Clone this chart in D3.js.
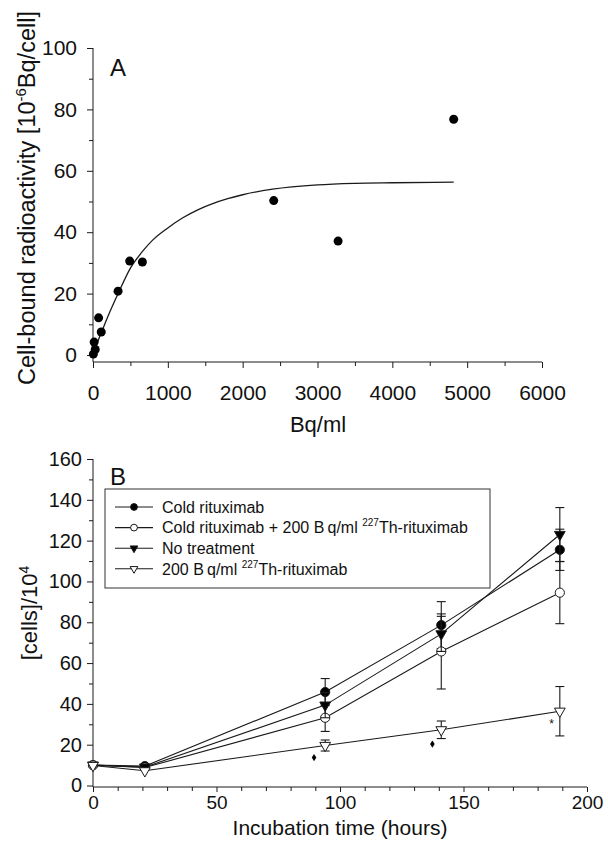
<!DOCTYPE html>
<html>
<head>
<meta charset="utf-8">
<script src="https://cdn.jsdelivr.net/npm/d3@7"></script>
<style>
  body { margin: 0; background: #fff; }
  svg { display: block; }
  text { font-family: "Liberation Sans", Arial, sans-serif; fill: #111; }
</style>
</head>
<body>
<div id="chart"></div>
<script>
// ---- panel A data ----
var bqPerMl   = [5, 30, 15, 75, 110, 335, 490, 660, 2415, 3275, 4820];
var cellBound = [0.3, 1.8, 4.2, 12.1, 7.5, 20.8, 30.6, 30.3, 50.3, 37.1, 76.8];

// fitted curve as drawn
var fitBq    = [40, 90, 125, 200, 345, 500, 650, 800, 1000, 1200, 1400, 1600, 1800, 2000, 2400, 3000, 3500, 4000, 4820];
var fitBound = [2.8, 6.0, 8.1, 12.6, 20.5, 28.3, 33.4, 37.5, 41.4, 44.7, 47.3, 49.3, 50.9, 52.2, 54.0, 55.4, 55.9, 56.1, 56.3];

// ---- panel B data ----
var hours = [0, 21, 94, 141, 189];
var seriesNames = ["Cold rituximab", "Cold rituximab + 200 B\u2009q/ml ", "No treatment", "200 B\u2009q/ml "];
var coldRituximab     = [10.0, 9.5, 45.8, 78.6, 115.5];
var coldRituximabErr  = [0, 0, 6.6, 11.5, 10.1];
var coldPlusTh        = [10.0, 8.8, 33.2, 65.7, 94.5];
var coldPlusThErr     = [0, 0, 6.7, 18.4, 15.2];
var noTreatment       = [10.0, 9.0, 39.4, 74.3, 123.0];
var noTreatmentErr    = [0, 0, 6.2, 8.6, 13.2];
var thRituximab       = [9.8, 7.2, 19.6, 27.3, 36.4];
var thRituximabErr    = [0, 0, 2.7, 4.3, 12.1];

var diamondHours = [89.5, 137.4];
var diamondVals  = [13.7, 20.3];
var starHours = [185.7];
var starVals  = [31.9];

var width = 608, height = 853;
var ink = "#1a1a1a";

var svg = d3.select("#chart").append("svg")
    .attr("width", width)
    .attr("height", height);

// helper: axis with major + minor ticks, no domain path
function ticks(g, axisFn, scale, major, minor, size, pad, fs) {
  g.append("g").call(axisFn(scale).tickValues(minor).tickSize(4).tickFormat(""))
    .call(function (s) { s.select(".domain").remove(); });
  var m = g.append("g").call(axisFn(scale).tickValues(major).tickSize(size).tickPadding(pad).tickFormat(d3.format("d")))
    .call(function (s) { s.select(".domain").remove(); });
  g.selectAll("line").attr("stroke", ink);
  m.selectAll("text").style("font-size", fs + "px").attr("fill", ink);
  return g;
}

// ================= Panel A =================
var xA = d3.scaleLinear().domain([0, 6000]).range([93, 542]);
var yA = d3.scaleLinear().domain([0, 100]).range([355, 48]);
var axisYA = 362; // offset x-axis

var gA = svg.append("g");

ticks(gA.append("g").attr("transform", "translate(93,0)"), d3.axisLeft, yA,
      d3.range(0, 101, 20), d3.range(10, 100, 20), 6, 10, 21);
ticks(gA.append("g").attr("transform", "translate(0," + axisYA + ")"), d3.axisBottom, xA,
      d3.range(0, 6001, 1000), d3.range(500, 6000, 1000), 6, 17, 21);

gA.append("line").attr("x1", 93).attr("x2", 93).attr("y1", yA(100)).attr("y2", axisYA)
  .attr("stroke", ink);
gA.append("line").attr("x1", 93).attr("x2", xA(6000)).attr("y1", axisYA).attr("y2", axisYA)
  .attr("stroke", ink);

// fit curve
var fitPts = fitBq.map(function (d, i) { return [d, fitBound[i]]; });
gA.append("path")
  .datum(fitPts)
  .attr("fill", "none")
  .attr("stroke", ink)
  .attr("stroke-width", 1.3)
  .attr("d", d3.line().x(function (d) { return xA(d[0]); }).y(function (d) { return yA(d[1]); })
        .curve(d3.curveMonotoneX));

// points
gA.selectAll("circle.pt")
  .data(bqPerMl.map(function (d, i) { return [d, cellBound[i]]; }))
  .enter().append("circle")
  .attr("cx", function (d) { return xA(d[0]); })
  .attr("cy", function (d) { return yA(d[1]); })
  .attr("r", 4.5)
  .attr("fill", "#000");

gA.append("text").attr("x", 110).attr("y", 76).style("font-size", "24px").text("A");

gA.append("text")
  .attr("transform", "translate(35,198) rotate(-90)")
  .attr("text-anchor", "middle")
  .style("font-size", "23.5px")
  .call(function (t) {
    t.append("tspan").text("Cell-bound radioactivity [10");
    t.append("tspan").attr("dy", -9).style("font-size", "15px").text("-6");
    t.append("tspan").attr("dy", 9).text("Bq/cell]");
  });

gA.append("text").attr("x", 318).attr("y", 432).attr("text-anchor", "middle")
  .style("font-size", "22px").text("Bq/ml");

// ================= Panel B =================
var xB = d3.scaleLinear().domain([0, 200]).range([93, 587]);
var yB = d3.scaleLinear().domain([0, 160]).range([785.5, 459]);
var axisYB = 787;

var gB = svg.append("g");

ticks(gB.append("g").attr("transform", "translate(93,0)"), d3.axisLeft, yB,
      d3.range(0, 161, 20), d3.range(10, 160, 20), 6, 5, 20);
ticks(gB.append("g").attr("transform", "translate(0," + axisYB + ")"), d3.axisBottom, xB,
      d3.range(0, 201, 50), d3.range(0, 200, 10).filter(function (d) { return d % 50; }), 5, 4, 19);

gB.append("line").attr("x1", 93).attr("x2", 93).attr("y1", yB(160)).attr("y2", axisYB)
  .attr("stroke", ink);
gB.append("line").attr("x1", 93).attr("x2", xB(200)).attr("y1", axisYB).attr("y2", axisYB)
  .attr("stroke", ink);

var series = [
  { name: seriesNames[0], vals: coldRituximab, err: coldRituximabErr, sym: "circle", fill: "#000", sup: null },
  { name: seriesNames[1], vals: coldPlusTh, err: coldPlusThErr, sym: "circle", fill: "#fff", sup: "227" },
  { name: seriesNames[2], vals: noTreatment, err: noTreatmentErr, sym: "tri", fill: "#000", sup: null },
  { name: seriesNames[3], vals: thRituximab, err: thRituximabErr, sym: "tri", fill: "#fff", sup: "227" }
];

function drawSymbol(sel, s, small) {
  if (s.sym === "circle") {
    sel.append("circle").attr("r", small ? 3.4 : 4.6)
      .attr("fill", s.fill).attr("stroke", ink).attr("stroke-width", 1);
  } else {
    sel.append("path")
      .attr("d", d3.symbol().type(d3.symbolTriangle).size(small ? 26 : 50)())
      .attr("transform", "rotate(180)")
      .attr("fill", s.fill).attr("stroke", ink).attr("stroke-width", 1);
  }
}

var lineB = d3.line()
  .x(function (d) { return xB(d[0]); })
  .y(function (d) { return yB(d[1]); });

series.forEach(function (s) {
  var pts = hours.map(function (h, i) { return [h, s.vals[i], s.err[i]]; });
  var g = gB.append("g");
  g.append("path").datum(pts).attr("fill", "none").attr("stroke", ink)
    .attr("stroke-width", 1.1).attr("d", lineB);

  var eb = g.selectAll("g.err").data(pts.filter(function (d) { return d[2] > 0; }))
    .enter().append("g").attr("stroke", ink).attr("stroke-width", 1.1);
  eb.append("line")
    .attr("x1", function (d) { return xB(d[0]); }).attr("x2", function (d) { return xB(d[0]); })
    .attr("y1", function (d) { return yB(d[1] - d[2]); }).attr("y2", function (d) { return yB(d[1] + d[2]); });
  [-1, 1].forEach(function (sgn) {
    eb.append("line")
      .attr("x1", function (d) { return xB(d[0]) - 4.5; }).attr("x2", function (d) { return xB(d[0]) + 4.5; })
      .attr("y1", function (d) { return yB(d[1] + sgn * d[2]); }).attr("y2", function (d) { return yB(d[1] + sgn * d[2]); });
  });

  g.selectAll("g.mk").data(pts).enter().append("g")
    .attr("transform", function (d) { return "translate(" + xB(d[0]) + "," + yB(d[1]) + ")"; })
    .each(function () { drawSymbol(d3.select(this), s, false); });
});

// significance marks
gB.selectAll("path.dia")
  .data(diamondHours.map(function (h, i) { return [h, diamondVals[i]]; }))
  .enter().append("path")
  .attr("transform", function (d) { return "translate(" + xB(d[0]) + "," + yB(d[1]) + ")"; })
  .attr("d", "M0,-3.6L2.3,0L0,3.6L-2.3,0Z")
  .attr("fill", "#000");

gB.selectAll("text.star")
  .data(starHours.map(function (h, i) { return [h, starVals[i]]; }))
  .enter().append("text")
  .attr("x", function (d) { return xB(d[0]); })
  .attr("y", function (d) { return yB(d[1]); })
  .attr("dy", "0.6em")
  .attr("text-anchor", "middle")
  .style("font-size", "12px")
  .text("*");

// legend
var leg = gB.append("g");
leg.append("rect").attr("x", 105).attr("y", 489).attr("width", 385).attr("height", 99)
  .attr("fill", "#fff").attr("stroke", "#333").attr("stroke-width", 1);
series.forEach(function (s, i) {
  var ry = 507 + i * 20.6;
  leg.append("line").attr("x1", 115).attr("x2", 153).attr("y1", ry).attr("y2", ry)
    .attr("stroke", ink).attr("stroke-width", 1.1);
  drawSymbol(leg.append("g").attr("transform", "translate(134," + ry + ")"), s, true);
  var t = leg.append("text").attr("x", 162).attr("y", ry + 5.8).style("font-size", "16px");
  t.append("tspan").text(s.name);
  if (s.sup) {
    t.append("tspan").attr("dy", -7).style("font-size", "10px").text(s.sup);
    t.append("tspan").attr("dy", 7).text("Th-rituximab");
  }
});

gB.append("text").attr("x", 110).attr("y", 485).style("font-size", "24px").text("B");

gB.append("text")
  .attr("transform", "translate(37,613) rotate(-90)")
  .attr("text-anchor", "middle")
  .style("font-size", "22px")
  .call(function (t) {
    t.append("tspan").text("[cells]/10");
    t.append("tspan").attr("dy", -8).style("font-size", "14px").text("4");
  });

gB.append("text").attr("x", 340).attr("y", 835).attr("text-anchor", "middle")
  .style("font-size", "21px").text("Incubation time (hours)");
</script>
</body>
</html>
